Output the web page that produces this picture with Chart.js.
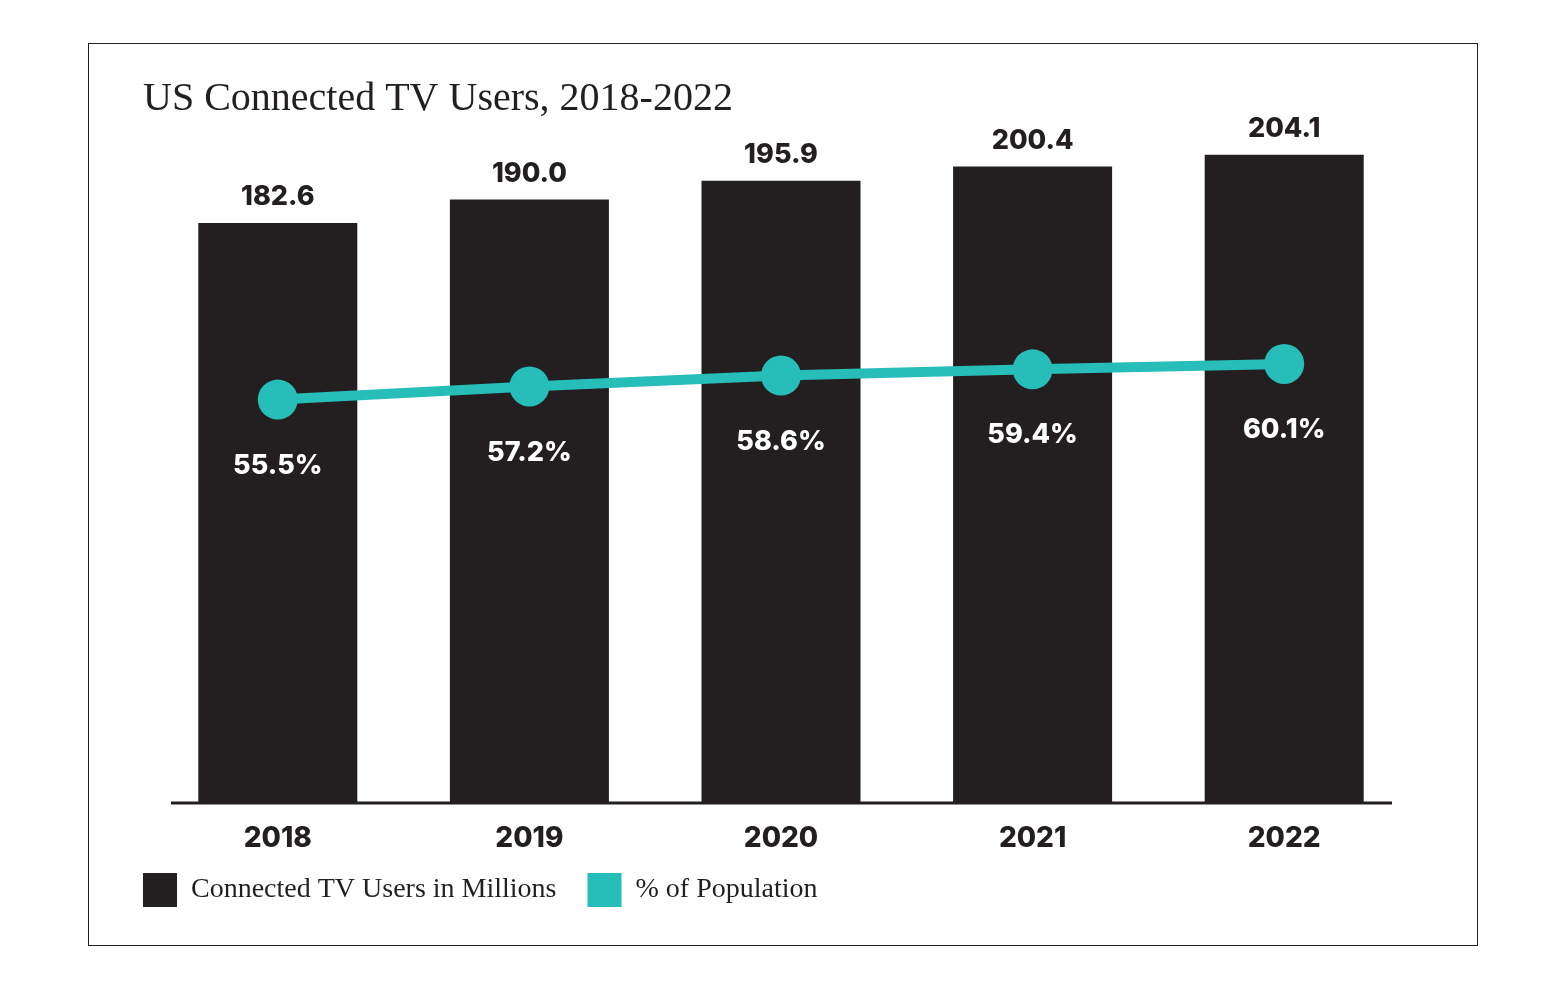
<!DOCTYPE html>
<html>
<head>
<meta charset="utf-8">
<script src="https://cdn.jsdelivr.net/npm/chart.js@4.4.0/dist/chart.umd.min.js"></script>
<style>
html, body { margin: 0; padding: 0; background: #fff; }
#wrap { position: relative; width: 1568px; height: 989px; }
#myChart { position: absolute; left: 0; top: 0; }
#frame { position: absolute; left: 88px; top: 43px; width: 1388px; height: 901px; border: 1.5px solid #231F20; pointer-events: none; }
</style>
</head>
<body>
<div id="wrap">
  <canvas id="myChart" width="1568" height="989" style="width:1568px;height:989px"></canvas>
  <div id="frame"></div>
</div>
<script>
// data
var years = ['2018', '2019', '2020', '2021', '2022'];
var users = [182.6, 190.0, 195.9, 200.4, 204.1];   // millions
var share = [55.5, 57.2, 58.6, 59.4, 60.1];        // % of population
var seriesNames = ['Connected TV Users in Millions', '% of Population'];

var dark = '#231F20';
var teal = '#27BEBA';
var boldFont = '800 27px Inter';

// value labels above the bars and under the dots
var valueLabels = {
    id: 'valueLabels',
    afterDatasetsDraw: function(chart) {
        var ctx = chart.ctx;
        var bars = chart.getDatasetMeta(0).data;
        var dots = chart.getDatasetMeta(1).data;
        ctx.save();
        ctx.font = boldFont;
        ctx.textAlign = 'center';
        ctx.textBaseline = 'middle';
        for (var i = 0; i < bars.length; i++) {
            ctx.fillStyle = dark;
            ctx.fillText(users[i].toFixed(1), bars[i].x, bars[i].y - 26);
            ctx.fillStyle = '#ffffff';
            ctx.fillText(share[i].toFixed(1) + '%', bars[i].x, dots[i].y + 66);
        }
        ctx.restore();
    }
};

// short baseline under the bars
var baseline = {
    id: 'baseline',
    beforeDatasetsDraw: function(chart) {
        var a = chart.chartArea, ctx = chart.ctx;
        ctx.save();
        ctx.strokeStyle = dark;
        ctx.lineWidth = 3;
        ctx.beginPath();
        ctx.moveTo(a.left + 19, a.bottom + 1);
        ctx.lineTo(a.right - 18, a.bottom + 1);
        ctx.stroke();
        ctx.restore();
    }
};

// legend starts flush with the title and sits a little closer to the axis
var legendShift = {
    id: 'legendShift',
    afterLayout: function(chart) {
        var l = chart.legend;
        var p = l.options.labels.padding;
        l.left -= p;
        l.right -= p;
        l.top -= 14;
        l.bottom -= 14;
    }
};

var ctx = document.getElementById('myChart').getContext('2d');
var chart = new Chart(ctx, {
    type: 'bar',
    data: {
        labels: years,
        datasets: [{
            type: 'bar',
            label: seriesNames[0],
            data: users,
            backgroundColor: dark,
            borderWidth: 0,
            categoryPercentage: 1,
            barPercentage: 0.632,
            yAxisID: 'y',
            order: 1
        }, {
            type: 'line',
            label: seriesNames[1],
            data: share,
            borderColor: teal,
            backgroundColor: teal,
            borderWidth: 10,
            pointRadius: 20,
            pointBackgroundColor: teal,
            pointBorderWidth: 0,
            tension: 0,
            yAxisID: 'y2',
            order: 0
        }]
    },
    options: {
        responsive: false,
        animation: false,
        layout: { padding: { left: 143, right: 158, top: 0, bottom: 58 } },
        scales: {
            x: {
                offset: true,
                grid: { display: false, drawTicks: false },
                border: { display: false },
                ticks: { color: dark, padding: 20, font: { family: 'Inter', weight: '800', size: 28 } },
                afterFit: function(s) { s.height = 54; }
            },
            y: {
                min: 0,
                max: 210,
                grid: { display: false, drawTicks: false },
                border: { display: false },
                ticks: { display: false },
                afterFit: function(s) { s.width = 9; }
            },
            y2: {
                display: false,
                position: 'right',
                min: 3.6,
                max: 89.5
            }
        },
        plugins: {
            title: {
                display: true,
                text: 'US Connected TV Users, 2018-2022',
                align: 'start',
                color: dark,
                font: { family: 'Liberation Serif', size: 40, weight: 'normal' },
                padding: { top: 75, bottom: 13 }
            },
            legend: {
                position: 'bottom',
                align: 'start',
                labels: {
                    boxWidth: 34,
                    boxHeight: 34,
                    padding: 31,
                    color: dark,
                    font: { family: 'Liberation Serif', size: 28 },
                    sort: function(a, b) { return a.datasetIndex - b.datasetIndex; },
                    generateLabels: function(c) {
                        var items = Chart.defaults.plugins.legend.labels.generateLabels(c);
                        items.forEach(function(it) { it.lineWidth = 0; it.strokeStyle = it.fillStyle; });
                        return items;
                    }
                }
            },
            tooltip: { enabled: false }
        }
    },
    plugins: [valueLabels, baseline, legendShift]
});
</script>
</body>
</html>
